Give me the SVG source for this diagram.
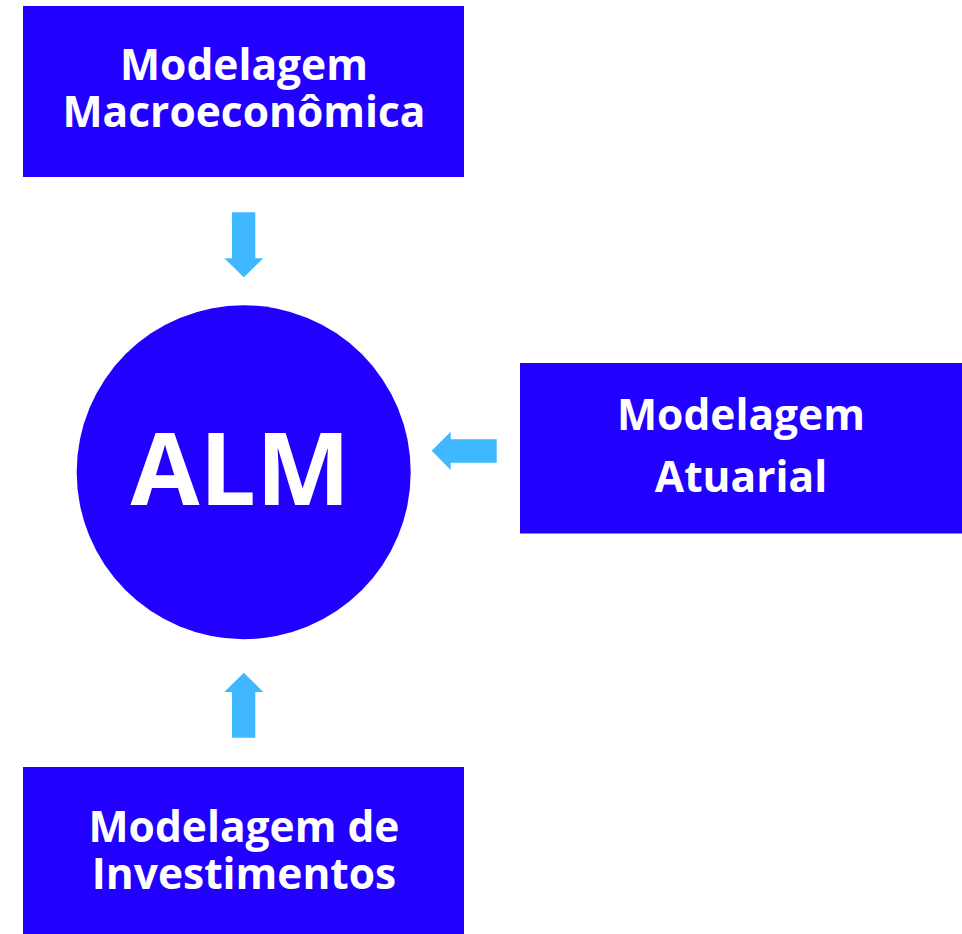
<svg xmlns="http://www.w3.org/2000/svg" width="962" height="934" viewBox="0 0 962 934">
<style>
.box{fill:#2200FF}
.lbl{font-family:"Open Sans","Noto Sans","Liberation Sans",sans-serif;font-weight:700;font-size:42.5px;fill:#FFFFFF;text-anchor:middle}
.alm{font-size:100px}
.arr{fill:#3FB8FF}
</style>
<rect width="962" height="934" fill="#FFFFFF"/>
<g id="macro">
<rect class="box" x="23" y="6" width="441" height="171"/>
<text class="lbl" x="244" y="80">Modelagem</text>
<text class="lbl" x="244" y="126.5">Macroeconômica</text>
</g>
<g id="alm">
<circle class="box" cx="243.7" cy="472.2" r="167"/>
<text class="lbl alm" x="240.5" y="505">ALM</text>
</g>
<g id="atuarial">
<rect class="box" x="520" y="363" width="442" height="170.5"/>
<text class="lbl" x="741" y="430">Modelagem</text>
<text class="lbl" x="741" y="492">Atuarial</text>
</g>
<g id="investimentos">
<rect class="box" x="23" y="767" width="441" height="167"/>
<text class="lbl" x="244" y="841.5">Modelagem de</text>
<text class="lbl" x="244" y="888.5">Investimentos</text>
</g>
<g id="connectors">
<polygon class="arr" points="232,212.3 255.3,212.3 255.3,258.3 263.3,258.3 243.8,277.3 224.3,258.3 232,258.3"/>
<polygon class="arr" points="496.7,439.3 496.7,462.7 450.7,462.7 450.7,470 431.7,450.7 450.7,431.7 450.7,439.3"/>
<polygon class="arr" points="232,737.7 255.3,737.7 255.3,692 263.3,692 243.8,672.7 224.3,692 232,692"/>
</g>
</svg>
